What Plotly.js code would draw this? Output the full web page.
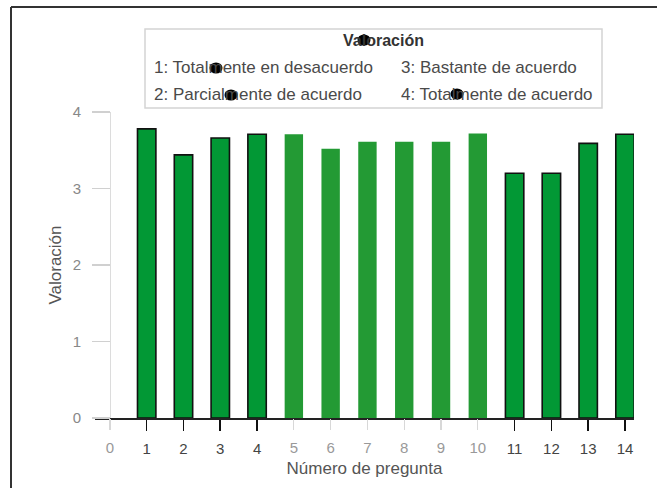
<!DOCTYPE html>
<html>
<head>
<meta charset="utf-8">
<script src="https://cdn.plot.ly/plotly-3.0.1.min.js"></script>
<style>html,body{margin:0;padding:0;background:#fff;}#chart{width:657px;height:488px;}</style>
</head>
<body>
<div id="chart"></div>
<script>
// ---- data ----
const preguntas = [1, 2, 3, 4, 5, 6, 7, 8, 9, 10, 11, 12, 13, 14];
const valoraciones = [3.78, 3.44, 3.66, 3.71, 3.71, 3.52, 3.61, 3.61, 3.61, 3.72, 3.20, 3.20, 3.59, 3.71];
const preguntasSinBorde = [5, 6, 7, 8, 9, 10];
const ticksOscuros = [1, 2, 3, 4, 11, 12, 13, 14];
const ticksClaros = [0, 5, 6, 7, 8, 9, 10];
const ticksY = [0, 1, 2, 3, 4];
const tituloLeyenda = 'Valoración';
const escala = ['1: Totalmente en desacuerdo', '2: Parcialmente de acuerdo', '3: Bastante de acuerdo', '4: Totalmente de acuerdo'];
const tituloX = 'Número de pregunta';
const tituloY = 'Valoración';

// ---- geometry helpers (pixel -> paper) ----
const W = 657, H = 488;
const M = {l: 95, r: 23, t: 112, b: 70};
const pw = W - M.l - M.r, ph = H - M.t - M.b;
const px = x => (x - M.l) / pw;
const py = y => (H - M.b - y) / ph;

const FONT = 'Liberation Sans, Arial, sans-serif';
const sinBorde = preguntas.map(p => preguntasSinBorde.includes(p));

const traces = [
  {
    type: 'bar',
    x: preguntas,
    y: valoraciones,
    width: 0.5,
    marker: {
      color: sinBorde.map(s => s ? '#239a34' : '#029835'),
      line: {color: '#111', width: sinBorde.map(s => s ? 0 : 1.6)}
    },
    hoverinfo: 'x+y',
    showlegend: false
  },
  {
    type: 'scatter', mode: 'markers',
    x: [0], y: [null], xaxis: 'x2', yaxis: 'y',
    showlegend: false, hoverinfo: 'skip'
  }
];

const xr = [-0.405, 14.245];

const shapes = [
  // outer frame (top & left visible)
  {type: 'line', xref: 'paper', yref: 'paper', x0: px(11), x1: px(W + 5), y0: py(7), y1: py(7), line: {color: '#333', width: 2}},
  {type: 'line', xref: 'paper', yref: 'paper', x0: px(11), x1: px(11), y0: py(7), y1: py(H + 5), line: {color: '#333', width: 2}},
  // legend box
  {type: 'rect', xref: 'paper', yref: 'paper', x0: px(145), x1: px(602), y0: py(29), y1: py(108), line: {color: '#d4d4d4', width: 1.5}, fillcolor: 'rgba(0,0,0,0)'},
];
// black blots present in the reference
const blots = [[364, 40, 13, 11], [216, 68, 13, 11], [231, 95, 13, 11], [457, 94, 13, 11]];
blots.forEach(b => shapes.push({
  type: 'circle', xref: 'paper', yref: 'paper', layer: 'above',
  x0: px(b[0] - b[2] / 2), x1: px(b[0] + b[2] / 2), y0: py(b[1] - b[3] / 2), y1: py(b[1] + b[3] / 2),
  fillcolor: '#000', line: {width: 0}
}));

const legFont = {family: FONT, size: 17, color: '#4a4a4a'};
const annotations = [
  {text: '<b>' + tituloLeyenda + '</b>', xref: 'paper', yref: 'paper', x: px(383), y: py(41), xanchor: 'center', yanchor: 'middle', showarrow: false, font: {family: FONT, size: 16, color: '#333'}},
  {text: escala[0], xref: 'paper', yref: 'paper', x: px(152), y: py(67), xanchor: 'left', yanchor: 'middle', showarrow: false, font: legFont},
  {text: escala[1], xref: 'paper', yref: 'paper', x: px(152), y: py(94), xanchor: 'left', yanchor: 'middle', showarrow: false, font: legFont},
  {text: escala[2], xref: 'paper', yref: 'paper', x: px(399), y: py(67), xanchor: 'left', yanchor: 'middle', showarrow: false, font: legFont},
  {text: escala[3], xref: 'paper', yref: 'paper', x: px(399), y: py(94), xanchor: 'left', yanchor: 'middle', showarrow: false, font: legFont}
];

const layout = {
  width: W, height: H,
  margin: M,
  paper_bgcolor: '#fff', plot_bgcolor: '#fff',
  font: {family: FONT},
  showlegend: false,
  bargap: 0.5,
  xaxis: {
    range: xr, fixedrange: true,
    tickmode: 'array', tickvals: ticksOscuros, ticktext: ticksOscuros.map(String),
    ticks: 'outside', ticklen: 11, tickwidth: 1.6, tickcolor: '#111',
    ticklabelstandoff: 5,
    tickfont: {family: FONT, size: 15, color: '#444'},
    showline: true, linecolor: '#222', linewidth: 1.6,
    showgrid: false, zeroline: false,
    title: {text: tituloX, font: {family: FONT, size: 17, color: '#555'}, standoff: 6}
  },
  xaxis2: {
    overlaying: 'x', anchor: 'y', side: 'bottom',
    range: xr, fixedrange: true,
    tickmode: 'array', tickvals: ticksClaros, ticktext: ticksClaros.map(String),
    ticks: 'outside', ticklen: 11, tickwidth: 1.2, tickcolor: '#d8d8d8',
    ticklabelstandoff: 5,
    tickfont: {family: FONT, size: 15, color: '#999'},
    showline: false, showgrid: false, zeroline: false
  },
  yaxis: {
    range: [0, 4], fixedrange: true,
    anchor: 'free', position: px(110),
    tickmode: 'array', tickvals: ticksY, ticktext: ticksY.map(String),
    ticks: 'outside', ticklen: 18, tickwidth: 1.2, tickcolor: '#d0d0d0',
    ticklabelstandoff: 8,
    tickfont: {family: FONT, size: 15, color: '#888'},
    showline: true, linecolor: '#dcdcdc', linewidth: 1.2,
    showgrid: false, zeroline: false,
    title: {text: tituloY, font: {family: FONT, size: 17, color: '#555'}, standoff: 5}
  },
  shapes: shapes,
  annotations: annotations
};

Plotly.newPlot('chart', traces, layout, {displayModeBar: false, staticPlot: true});
</script>
</body>
</html>
